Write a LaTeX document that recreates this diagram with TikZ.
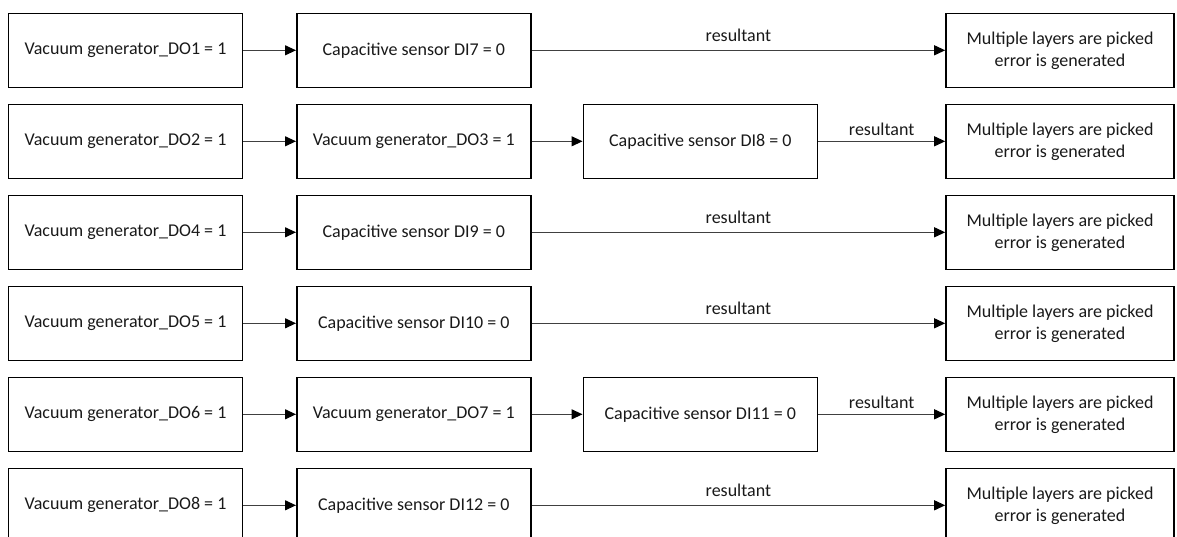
\documentclass[tikz,border=0pt]{standalone}
\usepackage{fontspec}
\setmainfont{Carlito}
\usetikzlibrary{arrows.meta}

\begin{document}
\begin{tikzpicture}[x=1pt, y=-1pt,
    box/.style={draw, line width=1.6pt, minimum width=234pt, minimum height=74pt, inner sep=0pt,
        align=center, text=black!90, font=\fontsize{18}{22}\selectfont},
    errbox/.style={box, minimum width=228pt},
    link/.style={black!75, line width=1.1pt, -{Triangle[length=11pt,width=10pt,black]}},
    lbl/.style={text=black!90, font=\fontsize{18}{22}\selectfont}]
    \useasboundingbox (0,0) rectangle (1177,536);

    \foreach \r/\vg/\cs in {0/1/7, 2/4/9, 3/5/10, 5/8/12} {
        \node[box] (vac\r) at (125.5, 50.3+91*\r) {Vacuum generator\_DO\vg{} = 1};
        \node[box] (cap\r) at (413.8, 50.3+91*\r) {Capacitive sensor DI\cs{} = 0};
        \node[errbox] (err\r) at (1060, 50.3+91*\r) {Multiple layers are picked\\error is generated};
        \draw[link] (vac\r) -- (cap\r);
        \draw[link] (cap\r) -- node[lbl, above=5pt] {resultant} (err\r);
    }

    \foreach \r/\va/\vb/\cs in {1/2/3/8, 4/6/7/11} {
        \node[box] (vac\r) at (125.5, 50.3+91*\r) {Vacuum generator\_DO\va{} = 1};
        \node[box] (vacb\r) at (413.8, 50.3+91*\r) {Vacuum generator\_DO\vb{} = 1};
        \node[box] (cap\r) at (700.3, 50.3+91*\r) {Capacitive sensor DI\cs{} = 0};
        \node[errbox] (err\r) at (1060, 50.3+91*\r) {Multiple layers are picked\\error is generated};
        \draw[link] (vac\r) -- (vacb\r);
        \draw[link] (vacb\r) -- (cap\r);
        \draw[link] (cap\r) -- node[lbl, above=2pt] {resultant} (err\r);
    }
\end{tikzpicture}
\end{document}
